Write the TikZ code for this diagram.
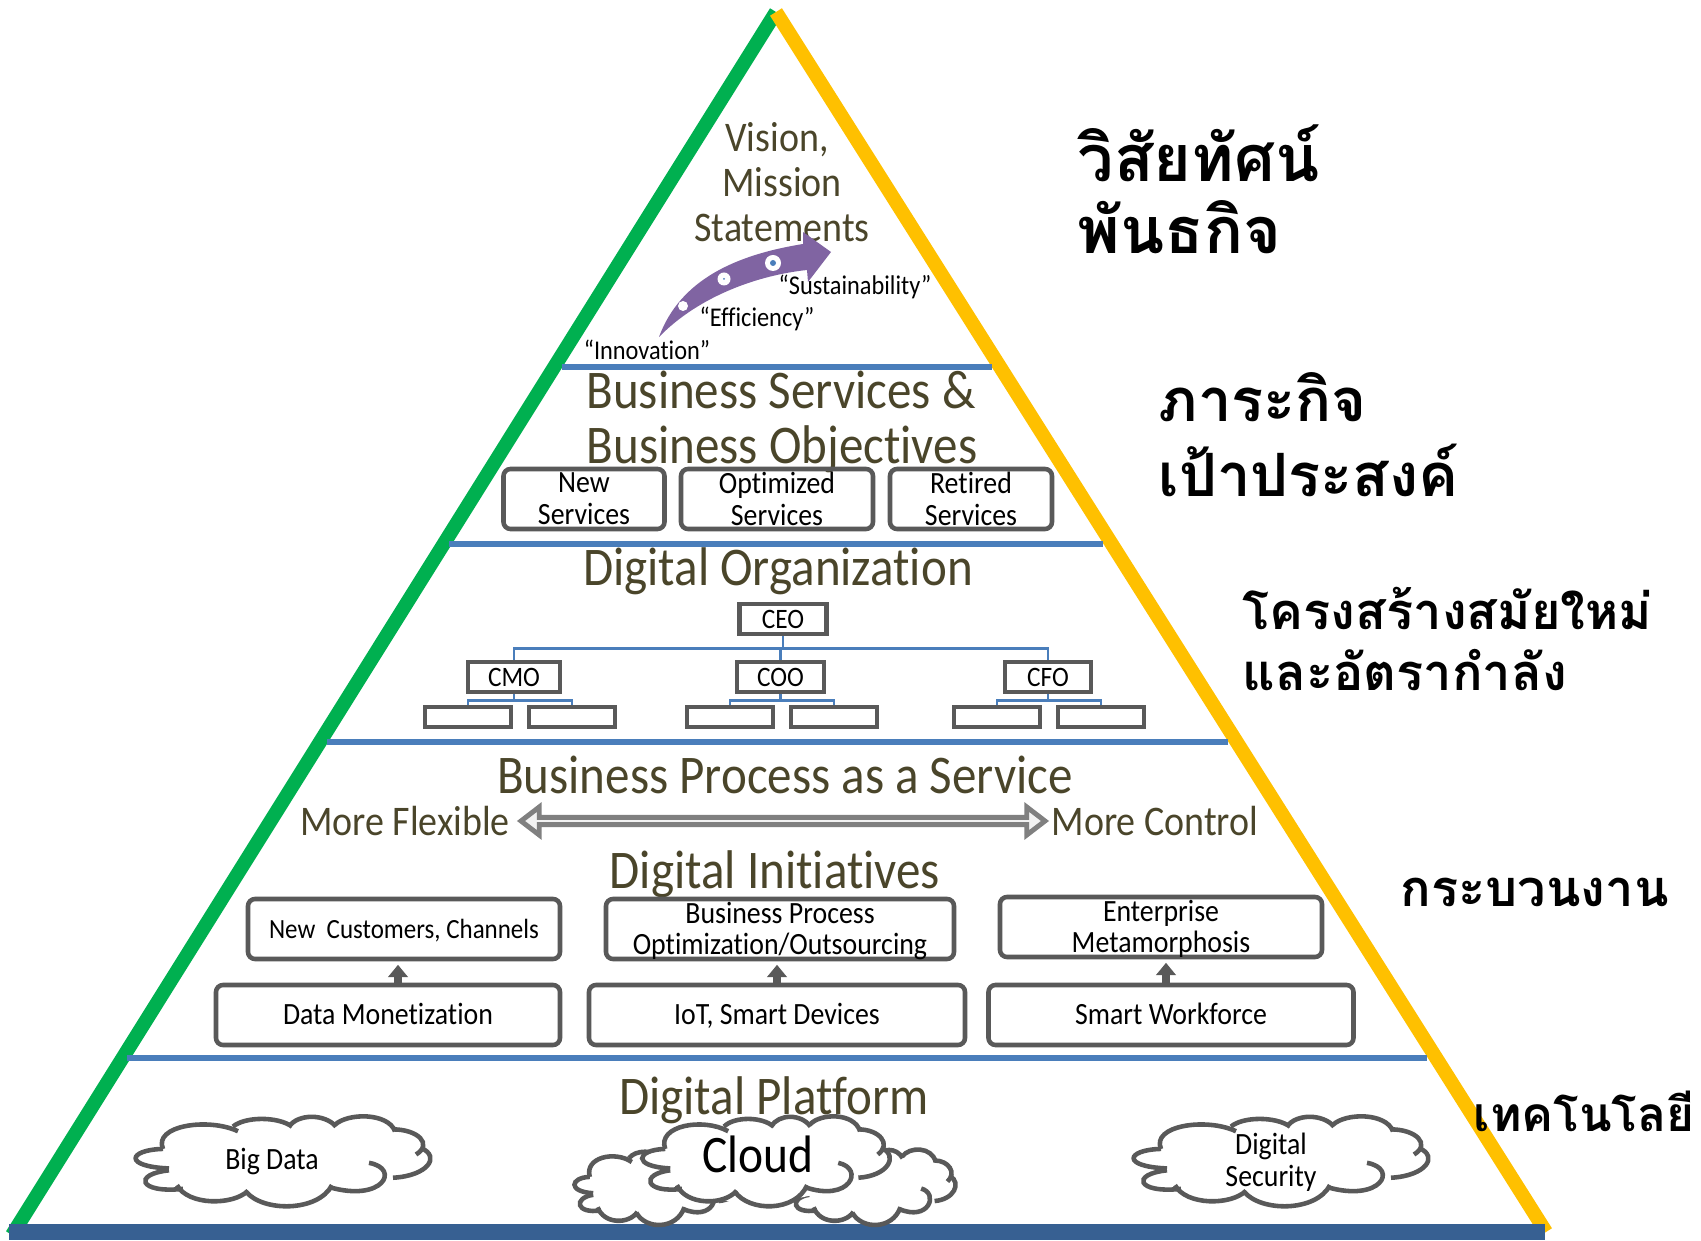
\documentclass[tikz,border=0pt]{standalone}
\usepackage{fontspec}
\setmainfont[FakeStretch=0.9,Ligatures=NoCommon]{Carlito}
\newfontfamily\thaifont[Script=Thai]{Loma}
\usepackage{xcolor}
\usetikzlibrary{shapes,shapes.arrows,positioning,arrows.meta,calc}
\definecolor{sidegreen}{HTML}{00B050}
\definecolor{sidegold}{HTML}{FFC000}
\definecolor{layerblue}{HTML}{4A7EBB}
\definecolor{basebar}{HTML}{376092}
\definecolor{boxgray}{HTML}{595959}
\definecolor{headolive}{HTML}{4A452A}
\definecolor{curvepurple}{HTML}{8064A2}

\begin{document}
\begin{tikzpicture}[
    x=0.1mm,
    y=-0.1mm,
    layer/.style ={
        line width=1.6pt,
        layerblue
    },
    head/.style ={
        headolive,
        font=\fontsize{15.5}{18}\selectfont
    },
    subhead/.style ={
        headolive,
        font=\fontsize{12}{14}\selectfont
    },
    quoted/.style ={
        font=\fontsize{7.7}{9}\selectfont
    },
    rbox/.style ={
        draw=boxgray,
        line width=1.3pt,
        rounded corners=2pt,
        minimum height=6mm,
        inner sep=0pt
    },
    boxtext/.style ={
        align=center,
        inner sep=0pt,
        font=\fontsize{8.8}{9}\selectfont
    },
    lowtext/.style ={
        boxtext,
        yshift=-0.2mm
    },
    onetext/.style ={
        boxtext,
        text height=2.5mm,
        text depth=0.65mm
    },
    orgbox/.style ={
        draw=boxgray,
        line width=1.4pt,
        minimum height=3mm,
        inner sep=0pt,
        font=\fontsize{8}{9}\selectfont
    },
    orgline/.style ={
        layerblue,
        line width=0.6pt
    },
    thai/.style ={
        anchor=west,
        inner sep=0pt,
        font=\thaifont\bfseries\fontsize{17}{19}\selectfont
    },
    thaismall/.style ={
        anchor=west,
        inner sep=0pt,
        font=\thaifont\bfseries\fontsize{14.4}{16}\selectfont
    },
    upbar/.style ={
        boxgray,
        line width=2pt,
        -{Triangle[width=5.5pt,length=3.5pt]}
    },
    cloudline/.style ={
        boxgray,
        line width=1.3pt
    },
    cloudpic/.pic ={
        \fill[white] (-148,-4) -- (-120,-30) -- (-80,-39) -- (-22,-45) -- (29,-47) -- (87,-47) -- (130,-30)
            -- (149,-2) -- (107,18) -- (75,33) -- (6,46) -- (-74,41) -- (-140,21) -- cycle;
        \draw[cloudline] (-120,-13) .. controls (-155,-12) and (-160,6) .. (-114,8);
        \draw[cloudline] (-120,-13) .. controls (-130,-38) and (-75,-47) .. (-45,-32);
        \draw[cloudline] (-50,-37) .. controls (-38,-48) and (-5,-48) .. (9,-37);
        \draw[cloudline] (6,-37) .. controls (15,-51) and (42,-51) .. (53,-37);
        \draw[cloudline] (52,-39) .. controls (65,-52) and (105,-52) .. (112,-32);
        \draw[cloudline] (110,-34) .. controls (135,-34) and (150,-18) .. (133,-7);
        \draw[cloudline] (138,-14) .. controls (158,-5) and (145,16) .. (110,18);
        \draw[cloudline] (86,2) .. controls (118,8) and (100,45) .. (46,28);
        \draw[cloudline] (49,26) .. controls (35,55) and (-20,55) .. (-37,33);
        \draw[cloudline] (-35,32) .. controls (-50,48) and (-95,48) .. (-106,26);
        \draw[cloudline] (-100,30) .. controls (-145,35) and (-150,14) .. (-114,10);
    }
    ]
    \useasboundingbox (0,0) rectangle (1701,1241);

    % sides and layers
    \coordinate (apex) at (776,12);
    \coordinate (baseL) at (12,1235);
    \coordinate (baseR) at (1546,1232);
    \draw[sidegreen,line width=4pt] (baseL) -- (apex);
    \draw[sidegold,line width=4pt] (apex) -- (baseR);
    \draw[basebar,line width=4.55pt] (9,1232) -- (1545,1232);
    \foreach \a/ \b/ \yy in {{562/992/367}, {449/1103/544}, {327/1228/742}, {127/1427/1058}}
        \draw[layer] (\a,\yy) -- (\b,\yy);

    % headings
    \foreach \x/ \pos/ \lab in {{vis/(777,140)/Vision,}, {mis/(782,182)/Mission}, {sta/(782,228)/Statements}}
        \node[subhead] (\x) at \pos {\lab};
    \foreach \x/ \pos/ \lab in {{bsv/(781,390)/Business Services \&}, {bob/(782,449)/Business Objectives},
                                {dor/(778,571)/Digital Organization}, {bpr/(785,775)/Business Process as a Service},
                                {dini/(775,874)/Digital Initiatives}, {dpl/(774,1100)/Digital Platform}}
        \node[head] (\x) at \pos {\lab};
    \node[subhead] (flex) at (405,821) {More Flexible};
    \node[subhead] (ctrl) at (1155,821) {More Control};

    % curved arrow
    \fill[curvepurple] (659,337) .. controls (680,280) and (735,255) .. (803,244) -- (803,232) -- (831,252)
        -- (808,282) -- (807,270) .. controls (760,275) and (700,295) .. cycle;
    \foreach \pos/ \rad/ \dot in {{(683,306)/5/0}, {(724,279)/6.5/1}, {(773,263)/8/3}} {
        \fill[white] \pos circle[radius=\rad];
        \fill[layerblue] \pos circle[radius=\dot];
    }
    \node[quoted] (inno) at (647,350) {“Innovation”};
    \node[quoted] (effi) at (757,319) {“Efficiency”};
    \node[quoted] (sust) at (855,287) {“Sustainability”};

    % service boxes
    \foreach \x/ \pos/ \wid/ \lab in {{newS/(584,499)/16.1/New\\Services}, {optS/(777,499)/19.2/Optimized\\Services},
                                      {retS/(971,499)/16.2/Retired\\Services}}
        \node[rbox,minimum width=\wid mm,label={[boxtext]center:\lab}] (\x) at \pos {};

    % org chart
    \foreach \x/ \pos/ \wid/ \lab in {{ceo/(783,619)/8.7/CEO}, {cmo/(514,677)/9.2/CMO}, {coo/(780.5,677)/8.7/COO},
                                      {cfo/(1048,677)/8.6/CFO}}
        \node[orgbox,minimum width=\wid mm] (\x) at \pos {\lab};
    \foreach \x/ \pos in {{subA/(468,717)}, {subB/(572,717)}, {subC/(730,717)}, {subD/(834,717)},
                          {subE/(997,717)}, {subF/(1101,717)}}
        \node[orgbox,minimum width=8.6mm,minimum height=2mm] (\x) at \pos {};
    \foreach \dst in {cmo,coo,cfo}
        \draw[orgline] (ceo.south) -- ++(0,12) -| (\dst.north);
    \foreach \src/ \dstA/ \dstB in {cmo/subA/subB, coo/subC/subD, cfo/subE/subF} {
        \draw[orgline] (\src.south) -- ++(0,6) -| (\dstA.north);
        \draw[orgline] (\src.south) -- ++(0,6) -| (\dstB.north);
    }

    % flexible <-> control
    \node[double arrow,draw=black!50,fill=black!5,line width=1.4pt,minimum height=52.4mm,minimum width=2.8mm,
          double arrow head extend=0.7mm,double arrow tip angle=75,inner sep=0pt] (flexctrl) at (783,821) {};

    % initiatives
    \foreach \x/ \pos/ \wid/ \sty/ \lab in {{cust/(404,929)/31.2/onetext/{\fontsize{7.9}{9}\selectfont New\ \ Customers, Channels}},
                                            {proc/(780,929)/34.8/lowtext/{Business Process\\Optimization/Outsourcing}},
                                            {meta/(1161,927)/32.2/lowtext/Enterprise\\Metamorphosis},
                                            {data/(388,1015)/34.4/onetext/Data Monetization},
                                            {iot/(777,1015)/37.6/onetext/IoT, Smart Devices},
                                            {work/(1171,1015)/36.5/onetext/Smart Workforce}}
        \node[rbox,minimum width=\wid mm,label={[\sty]center:\lab}] (\x) at \pos {};
    \foreach \src/ \dst/ \off in {data/cust/-0.6, iot/proc/-0.3, work/meta/0.5}
        \draw[upbar,shorten >=1pt] ([xshift=\off mm]\dst.south |- \src.north) -- ([xshift=\off mm]\dst.south);

    % clouds
    \pic[xscale=.56,yscale=.78] at (657,1187) {cloudpic};
    \pic[xscale=.56,yscale=.78] at (873,1187) {cloudpic};
    \pic[yscale=.93] at (283,1161) {cloudpic};
    \pic[yscale=.93] at (1281,1161) {cloudpic};
    \pic[xscale=.84,yscale=.93] at (766,1161) {cloudpic};
    \node[onetext] (big) at (272,1160) {Big Data};
    \node[boxtext] (sec) at (1271,1162) {Digital\\Security};
    \node[onetext,font=\fontsize{15}{17}\selectfont,text height=3.6mm,text depth=0.7mm] (cld) at (758,1158) {Cloud};

    % thai labels
    \node[thai,font=\thaifont\bfseries\fontsize{18.4}{20}\selectfont] (th1) at (1077,153) {วิสัยทัศน์};
    \node[thai,font=\thaifont\bfseries\fontsize{18.4}{20}\selectfont] (th2) at (1077,227) {พันธกิจ};
    \node[thai] (th3) at (1158,397) {ภาระกิจ};
    \node[thai] (th4) at (1158,470) {เป้าประสงค์};
    \node[thaismall] (th5) at (1242,608) {โครงสร้างสมัยใหม่};
    \node[thaismall] (th6) at (1242,670) {และอัตรากำลัง};
    \node[thaismall] (th7) at (1400,892) {กระบวนงาน};
    \node[thaismall,font=\thaifont\bfseries\fontsize{13.6}{16}\selectfont] (th8) at (1473,1111) {เทคโนโลยี};
\end{tikzpicture}
\end{document}
